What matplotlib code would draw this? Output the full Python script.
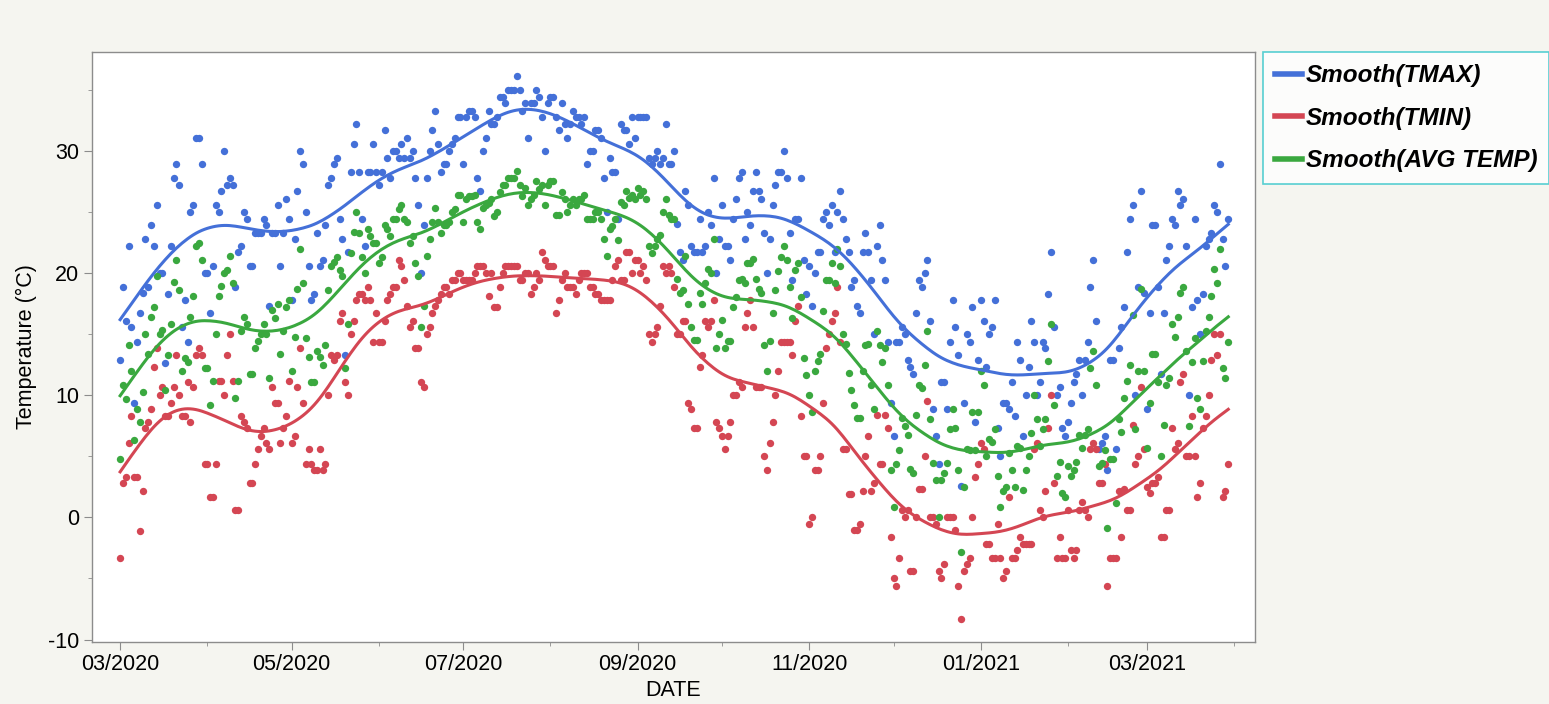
import matplotlib
matplotlib.use("Agg")
import matplotlib.pyplot as plt
import matplotlib.dates as mdates
from matplotlib.lines import Line2D
import numpy as np
import pandas as pd

plt.rcParams['font.family'] = ['Liberation Sans', 'DejaVu Sans']
plt.rcParams['axes.unicode_minus'] = False

# daily values, starting 2020-03-01 (deg C)
tmax = [
    # day 0-29
    12.9, 18.9, 16.1, 22.2, 15.6, 9.4, 14.4, 16.7, 18.4, 22.8, 18.9, 23.9, 22.2, 25.6, 20.0,
    20.0, 12.6, 18.3, 22.2, 27.8, 28.9, 27.2, 15.6, 17.8, 14.4, 25.0, 25.6, 31.1, 31.1, 28.9,
    # day 30-63
    20.0, 20.0, 16.7, 20.6, 25.6, 25.0, 26.7, 30.0, 27.2, 27.8, 27.2, 18.9, 21.7, 22.2, 25.0, 24.4, 20.6,
    20.6, 23.3, 23.3, 23.3, 24.4, 23.9, 17.3, 23.3, 23.3, 25.6, 20.6, 23.3, 26.1, 24.4, 17.8, 22.8, 26.7,
    # day 64-97
    30.0, 28.9, 25.0, 20.6, 17.8, 18.3, 23.3, 20.6, 21.1, 23.9, 27.2, 27.8, 28.9, 29.4, 24.4, 22.8, 13.3,
    21.7, 28.3, 30.6, 32.2, 28.3, 24.4, 22.2, 28.3, 28.3, 30.6, 28.3, 27.2, 28.3, 31.7, 29.4, 27.8, 30.0,
    # day 98-131
    30.0, 29.4, 30.6, 29.4, 31.1, 29.4, 30.0, 27.8, 25.6, 20.0, 23.9, 27.8, 30.0, 31.7, 33.3, 30.6, 28.3,
    28.9, 28.9, 30.0, 30.6, 31.1, 32.8, 32.8, 28.9, 32.8, 33.3, 33.3, 32.8, 27.8, 26.7, 30.0, 31.1, 33.3,
    # day 132-164
    32.2, 32.2, 32.8, 34.4, 34.4, 33.9, 35.0, 35.0, 35.0, 36.1, 35.0, 33.3, 33.9, 31.1, 33.9, 33.9, 35.0,
    34.4, 32.8, 30.0, 33.9, 34.4, 34.4, 32.8, 31.7, 33.9, 32.2, 31.1, 32.2, 33.3, 32.8, 32.8, 32.2,
    # day 165-198
    32.8, 28.9, 30.0, 30.0, 31.7, 31.7, 31.1, 27.8, 25.0, 29.4, 28.3, 28.3, 24.4, 32.2, 31.7, 31.7, 30.6,
    32.8, 31.1, 32.8, 32.8, 32.8, 32.8, 29.4, 28.9, 29.4, 30.0, 28.9, 29.4, 32.2, 28.9, 28.9, 30.0, 24.0,
    # day 199-232
    21.7, 21.1, 26.7, 25.6, 22.2, 21.7, 21.7, 24.4, 21.7, 22.2, 25.0, 23.9, 27.8, 20.0, 22.8, 25.6, 22.2,
    22.2, 21.1, 24.4, 26.1, 27.8, 28.3, 22.8, 25.0, 23.9, 26.7, 28.3, 26.7, 26.1, 23.3, 20.0, 22.8, 25.6,
    # day 233-266
    27.2, 28.3, 28.3, 30.0, 27.8, 23.3, 19.4, 24.4, 24.4, 27.8, 21.1, 18.3, 20.6, 17.3, 20.0, 21.7, 21.7,
    24.4, 25.0, 23.9, 25.6, 21.7, 25.0, 26.7, 24.4, 22.8, 21.7, 18.9, 19.4, 17.3, 16.7, 21.7, 23.3, 21.7,
    # day 267-299
    19.4, 15.0, 22.2, 23.9, 21.1, 19.4, 14.4, 9.4, 6.7, 14.4, 14.4, 15.6, 15.0, 12.9, 12.3, 11.7, 16.7,
    19.4, 18.9, 20.0, 21.1, 16.1, 8.9, 6.7, 4.4, 11.1, 11.1, 8.9, 14.4, 17.8, 15.6, 13.3, 2.6,
    # day 300-333
    9.4, 15.0, 14.4, 17.2, 7.8, 12.9, 17.8, 16.1, 12.3, 15.0, 15.6, 17.8, 7.3, 5.0, 9.4, 9.4, 8.9,
    11.1, 8.3, 14.4, 12.9, 6.7, 10.0, 12.3, 16.1, 14.4, 10.0, 11.1, 14.4, 13.9, 18.3, 21.7, 15.6, 10.0,
    # day 334-367
    10.7, 7.3, 6.7, 7.8, 9.4, 11.1, 11.7, 12.9, 10.0, 12.9, 14.4, 18.9, 21.1, 16.1, 5.6, 6.1, 6.7,
    3.9, 12.9, 12.9, 5.6, 13.9, 15.6, 17.2, 21.7, 24.4, 25.6, 10.0, 18.9, 26.7, 18.4, 8.9, 16.7, 23.9,
    # day 368-394
    23.9, 18.9, 11.7, 16.7, 21.1, 22.2, 24.4, 23.9, 26.7, 25.6, 26.1, 22.2, 10.0, 17.2,
    24.4, 17.8, 15.0, 18.3, 22.2, 22.8, 23.3, 25.6, 25.0, 28.9, 22.8, 20.6, 24.4,
]

tmin = [
    # day 0-29
    -3.3, 2.8, 3.3, 6.1, 8.3, 3.3, 3.3, -1.1, 2.2, 7.3, 7.8, 8.9, 12.3, 13.9, 10.0,
    10.7, 8.3, 8.3, 9.4, 10.7, 13.3, 10.0, 8.3, 8.3, 11.1, 7.8, 10.7, 13.3, 13.9, 13.3,
    # day 30-63
    4.4, 4.4, 1.7, 1.7, 4.4, 11.2, 11.2, 10.0, 13.3, 15.0, 11.2, 0.6, 0.6, 8.3, 7.8, 7.3, 2.8,
    2.8, 4.4, 5.6, 6.7, 7.3, 6.1, 5.6, 10.7, 9.4, 9.4, 6.1, 7.3, 8.3, 11.2, 6.1, 6.7, 10.7,
    # day 64-97
    13.9, 9.4, 4.4, 5.6, 4.4, 3.9, 3.9, 5.6, 3.9, 4.4, 10.0, 13.3, 12.9, 13.3, 16.1, 16.7, 11.1,
    10.0, 15.0, 16.1, 17.8, 18.3, 18.3, 17.8, 18.9, 17.8, 14.4, 16.7, 14.4, 14.4, 16.1, 17.8, 18.3, 18.9,
    # day 98-131
    18.9, 21.1, 20.6, 19.4, 17.3, 15.6, 16.1, 13.9, 13.9, 11.1, 10.7, 15.0, 15.6, 16.7, 17.3, 17.8, 18.3,
    18.9, 18.9, 18.3, 19.4, 19.4, 20.0, 20.0, 19.4, 19.4, 19.4, 19.4, 20.0, 20.6, 20.6, 20.6, 20.0, 18.1,
    # day 132-164
    20.0, 17.2, 17.2, 18.9, 20.0, 20.6, 20.6, 20.6, 20.6, 20.6, 19.4, 19.4, 20.0, 20.0, 18.3, 18.9, 20.0,
    19.4, 21.7, 21.1, 20.6, 20.6, 20.6, 16.7, 17.8, 19.4, 20.0, 18.9, 18.9, 18.9, 18.3, 19.4, 20.0,
    # day 165-198
    20.0, 20.0, 18.9, 18.9, 18.3, 18.3, 17.8, 17.8, 17.8, 17.8, 19.4, 20.6, 21.1, 19.4, 19.4, 21.7, 21.7,
    20.0, 21.1, 21.1, 20.0, 20.6, 19.4, 15.0, 14.4, 15.0, 15.6, 17.3, 20.6, 20.0, 20.6, 20.0, 18.9, 15.0,
    # day 199-232
    15.0, 16.1, 16.1, 9.4, 8.9, 7.3, 7.3, 12.3, 13.3, 16.1, 15.6, 16.1, 17.8, 7.8, 7.3, 6.7, 5.6,
    6.7, 7.8, 10.0, 10.0, 11.1, 10.7, 15.6, 16.7, 17.8, 15.6, 10.7, 10.7, 10.7, 5.0, 3.9, 6.1, 7.8,
    # day 233-266
    10.0, 12.0, 14.4, 14.4, 14.4, 14.4, 13.3, 16.1, 17.3, 8.3, 5.0, 5.0, -0.5, 0.0, 3.9, 3.9, 5.0,
    9.4, 13.9, 15.0, 16.1, 16.7, 18.9, 14.4, 5.6, 5.6, 1.9, 1.9, -1.0, -1.0, -0.5, 2.2, 5.0, 6.7,
    # day 267-299
    2.2, 2.8, 8.4, 4.4, 4.4, 8.4, 7.3, -1.6, -5.0, -5.6, -3.3, 0.6, 0.0, 0.6, -4.4, -4.4, 0.0,
    2.3, 2.3, 5.0, 9.5, 0.0, 0.0, -0.5, -4.4, -5.0, -3.8, 0.0, 0.0, 0.0, -1.0, -5.6, -8.3,
    # day 300-333
    -4.4, -3.8, -3.3, 0.0, 3.3, 4.4, 6.1, 5.6, -2.2, -2.2, -3.3, -3.3, -0.5, -3.3, -5.0, -4.4, 1.7,
    -3.3, -3.3, -2.7, -1.6, -2.2, -2.2, -2.2, -2.2, 5.6, 6.1, 0.6, 0.0, 2.2, 7.3, 10.0, 2.8, -3.3,
    # day 334-367
    -1.6, -3.3, -3.3, 0.6, -2.7, -3.3, -2.7, 0.6, 1.3, 0.6, 0.0, 5.6, 6.1, 5.6, 2.8, 2.8, 4.4,
    -5.6, -3.3, -3.3, -3.3, 2.2, -1.6, 2.3, 0.6, 0.6, 7.6, 4.4, 5.0, 10.7, 5.6, 2.5, 2.0, 2.8,
    # day 368-394
    2.8, 3.3, -1.6, -1.6, 0.6, 0.6, 7.3, 5.6, 6.1, 11.1, 11.7, 5.0, 5.0, 8.3,
    5.0, 1.7, 2.8, 7.3, 8.3, 10.0, 12.9, 15.0, 13.3, 15.0, 1.7, 2.2, 4.4,
]

legend_labels = ["Smooth(TMAX)", "Smooth(TMIN)", "Smooth(AVG TEMP)"]

df = pd.DataFrame({"TMAX": tmax, "TMIN": tmin})
df["DATE"] = pd.date_range("2020-03-01", periods=len(df), freq="D")
df["AVG TEMP"] = (df["TMAX"] + df["TMIN"]) / 2


def smooth(y, lam=8.0e3):
    # penalised second-difference smoother (spline-like)
    n = len(y)
    d2 = np.diff(np.eye(n), 2, axis=0)
    return np.linalg.solve(np.eye(n) + lam * d2.T @ d2, np.asarray(y, float))


c_blue = "#4470d8"
c_red = "#d44653"
c_green = "#3aa83f"

fig = plt.figure(figsize=(15.49, 7.04), dpi=100, facecolor="#f5f5f0")
ax = fig.add_axes([92 / 1549, 1 - 642 / 704, (1255 - 92) / 1549, (642 - 52) / 704])
ax.set_facecolor("white")

for col, c in zip(["TMAX", "TMIN", "AVG TEMP"], [c_blue, c_red, c_green]):
    ax.scatter(df["DATE"], df[col], s=28, color=c, linewidths=0, zorder=2)
for col, c in zip(["TMAX", "TMIN", "AVG TEMP"], [c_blue, c_red, c_green]):
    ax.plot(df["DATE"], smooth(df[col]), color=c, lw=2.2, zorder=3)

t0 = pd.Timestamp("2020-03-01")
ax.set_xlim(t0 - pd.Timedelta(days=10), t0 + pd.Timedelta(days=403.5))
ax.set_ylim(-10.2, 38.1)
ax.set_yticks([-10, 0, 10, 20, 30])
ax.set_yticks(np.arange(-5, 38, 10), minor=True)
ax.xaxis.set_major_locator(mdates.MonthLocator(bymonth=[1, 3, 5, 7, 9, 11]))
ax.xaxis.set_minor_locator(mdates.MonthLocator())
ax.xaxis.set_major_formatter(mdates.DateFormatter("%m/%Y"))

for s in ax.spines.values():
    s.set_color("#8c8c8c")
    s.set_linewidth(1.0)
ax.tick_params(which="major", length=6, color="#8c8c8c", labelsize=15.5, pad=3)
ax.tick_params(which="minor", length=3, color="#8c8c8c")
ax.set_xlabel("DATE", fontsize=15.5, labelpad=3)
ax.set_ylabel("Temperature (°C)", fontsize=15.5, labelpad=8)

handles = [Line2D([0], [0], color=c, lw=4) for c in [c_blue, c_red, c_green]]
leg = fig.legend(handles, legend_labels, loc="upper left",
                 bbox_to_anchor=(1263 / 1549, 1 - 52 / 704),
                 prop=dict(weight="bold", style="italic", size=17.5),
                 frameon=True, fancybox=False, handlelength=1.1,
                 handletextpad=0.15, labelspacing=0.8, borderpad=0.5,
                 borderaxespad=0)
leg.get_frame().set_edgecolor("#2ec4c8")
leg.get_frame().set_linewidth(1.2)

fig.savefig("out.png", dpi=100, facecolor=fig.get_facecolor())
